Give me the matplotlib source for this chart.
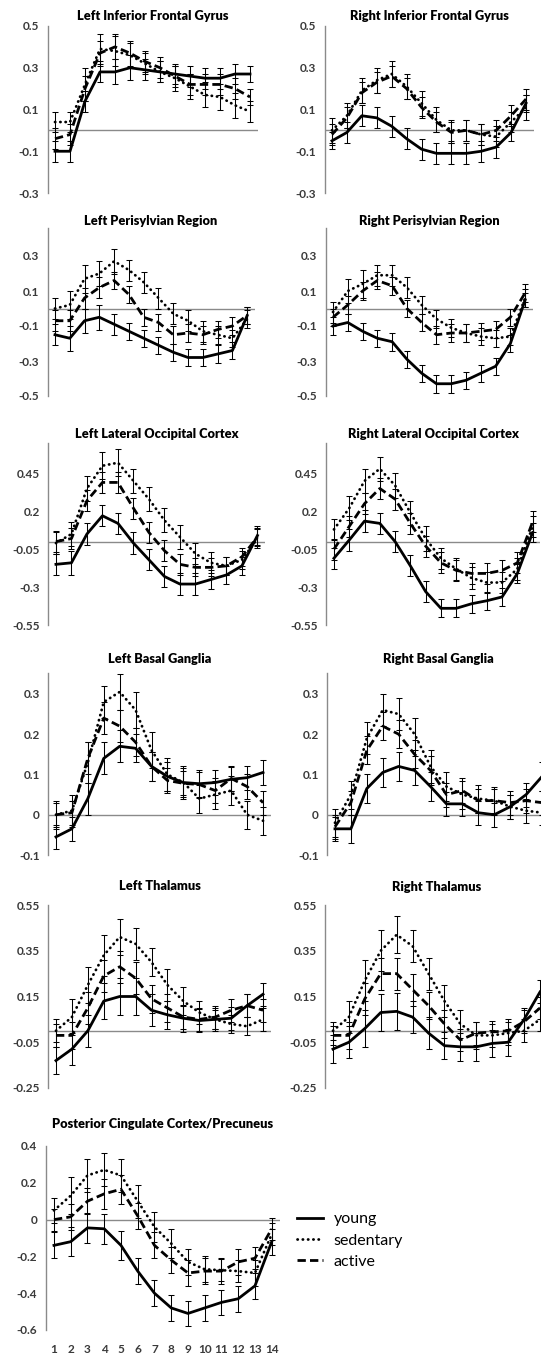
import matplotlib
matplotlib.use("Agg")
import matplotlib.pyplot as plt
from matplotlib.lines import Line2D

# ---------------- data ----------------
time_points = [1, 2, 3, 4, 5, 6, 7, 8, 9, 10, 11, 12, 13, 14]
group_labels = ["young", "sedentary", "active"]

LIFG_young = [-0.10, -0.10, 0.14, 0.28, 0.28, 0.30, 0.29, 0.28, 0.27, 0.26, 0.25, 0.25, 0.27, 0.27]
LIFG_sed = [0.04, 0.04, 0.22, 0.39, 0.38, 0.36, 0.32, 0.28, 0.25, 0.21, 0.17, 0.16, 0.12, 0.09]
LIFG_act = [-0.04, -0.02, 0.20, 0.37, 0.40, 0.37, 0.33, 0.30, 0.26, 0.22, 0.22, 0.22, 0.20, 0.16]
LIFG_err_young = [0.05, 0.05, 0.05, 0.05, 0.06, 0.06, 0.05, 0.05, 0.05, 0.05, 0.05, 0.05, 0.05, 0.04]
LIFG_err_sed = [0.05, 0.05, 0.08, 0.07, 0.07, 0.06, 0.05, 0.05, 0.06, 0.06, 0.06, 0.06, 0.06, 0.05]
LIFG_err_act = [0.05, 0.05, 0.06, 0.06, 0.06, 0.06, 0.05, 0.05, 0.05, 0.05, 0.05, 0.05, 0.05, 0.04]

RIFG_young = [-0.05, -0.01, 0.07, 0.06, 0.02, -0.04, -0.09, -0.11, -0.11, -0.11, -0.10, -0.08, -0.01, 0.13]
RIFG_sed = [0.00, 0.07, 0.19, 0.24, 0.27, 0.21, 0.13, 0.05, 0.00, 0.00, -0.02, -0.03, 0.04, 0.11]
RIFG_act = [-0.02, 0.06, 0.18, 0.23, 0.26, 0.20, 0.11, 0.04, -0.01, 0.00, -0.02, 0.00, 0.07, 0.15]
RIFG_err_young = [0.04, 0.05, 0.05, 0.05, 0.05, 0.05, 0.05, 0.05, 0.05, 0.05, 0.05, 0.05, 0.04, 0.04]
RIFG_err_sed = [0.06, 0.06, 0.06, 0.06, 0.06, 0.06, 0.06, 0.06, 0.05, 0.05, 0.05, 0.05, 0.05, 0.06]
RIFG_err_act = [0.05, 0.05, 0.05, 0.05, 0.05, 0.05, 0.05, 0.05, 0.05, 0.05, 0.05, 0.05, 0.05, 0.05]

LPeri_young = [-0.15, -0.17, -0.07, -0.05, -0.09, -0.13, -0.17, -0.21, -0.25, -0.28, -0.28, -0.26, -0.24, -0.04]
LPeri_sed = [0.00, 0.02, 0.17, 0.20, 0.27, 0.22, 0.15, 0.06, -0.03, -0.07, -0.13, -0.15, -0.17, -0.06]
LPeri_act = [-0.07, -0.07, 0.06, 0.12, 0.16, 0.08, -0.05, -0.08, -0.15, -0.14, -0.15, -0.12, -0.10, -0.04]
LPeri_err_young = [0.06, 0.07, 0.07, 0.07, 0.06, 0.05, 0.05, 0.05, 0.05, 0.05, 0.05, 0.05, 0.05, 0.05]
LPeri_err_sed = [0.06, 0.08, 0.08, 0.07, 0.07, 0.06, 0.06, 0.06, 0.06, 0.06, 0.06, 0.05, 0.05, 0.05]
LPeri_err_act = [0.06, 0.06, 0.06, 0.06, 0.05, 0.05, 0.05, 0.05, 0.05, 0.05, 0.05, 0.05, 0.05, 0.05]

RPeri_young = [-0.10, -0.08, -0.13, -0.17, -0.19, -0.29, -0.37, -0.43, -0.43, -0.41, -0.37, -0.33, -0.20, 0.05]
RPeri_sed = [-0.02, 0.10, 0.14, 0.19, 0.19, 0.12, 0.02, -0.06, -0.11, -0.14, -0.16, -0.17, -0.16, 0.06]
RPeri_act = [-0.05, 0.02, 0.10, 0.16, 0.13, 0.00, -0.08, -0.15, -0.14, -0.14, -0.13, -0.12, -0.05, 0.09]
RPeri_err_young = [0.05, 0.05, 0.05, 0.05, 0.05, 0.05, 0.05, 0.05, 0.05, 0.05, 0.05, 0.05, 0.05, 0.04]
RPeri_err_sed = [0.06, 0.07, 0.08, 0.06, 0.06, 0.06, 0.05, 0.05, 0.05, 0.05, 0.05, 0.05, 0.05, 0.05]
RPeri_err_act = [0.05, 0.05, 0.05, 0.05, 0.05, 0.05, 0.05, 0.05, 0.05, 0.05, 0.05, 0.05, 0.05, 0.05]

LLOC_young = [-0.15, -0.14, 0.05, 0.17, 0.12, -0.01, -0.12, -0.23, -0.28, -0.28, -0.25, -0.22, -0.16, 0.04]
LLOC_sed = [-0.01, 0.05, 0.35, 0.50, 0.52, 0.40, 0.28, 0.14, 0.03, -0.08, -0.14, -0.16, -0.12, 0.02]
LLOC_act = [0.00, 0.02, 0.27, 0.39, 0.39, 0.22, 0.06, -0.06, -0.15, -0.17, -0.17, -0.16, -0.10, 0.03]
LLOC_err_young = [0.07, 0.08, 0.07, 0.07, 0.07, 0.07, 0.07, 0.07, 0.07, 0.07, 0.06, 0.06, 0.06, 0.06]
LLOC_err_sed = [0.07, 0.08, 0.08, 0.09, 0.09, 0.08, 0.08, 0.08, 0.08, 0.07, 0.07, 0.06, 0.06, 0.06]
LLOC_err_act = [0.07, 0.07, 0.07, 0.07, 0.07, 0.07, 0.07, 0.07, 0.07, 0.06, 0.06, 0.06, 0.06, 0.06]

RLOC_young = [-0.11, 0.01, 0.135, 0.12, 0.00, -0.16, -0.33, -0.44, -0.44, -0.41, -0.39, -0.365, -0.21, 0.06]
RLOC_sed = [0.08, 0.22, 0.40, 0.48, 0.37, 0.19, 0.02, -0.11, -0.18, -0.24, -0.27, -0.27, -0.18, 0.10]
RLOC_act = [-0.05, 0.10, 0.25, 0.35, 0.28, 0.12, -0.03, -0.14, -0.19, -0.21, -0.21, -0.19, -0.14, 0.13]
RLOC_err_young = [0.07, 0.07, 0.07, 0.07, 0.07, 0.07, 0.07, 0.06, 0.06, 0.06, 0.06, 0.06, 0.06, 0.06]
RLOC_err_sed = [0.07, 0.08, 0.08, 0.08, 0.08, 0.08, 0.08, 0.07, 0.07, 0.07, 0.07, 0.07, 0.07, 0.07]
RLOC_err_act = [0.07, 0.07, 0.07, 0.07, 0.07, 0.07, 0.07, 0.07, 0.07, 0.07, 0.07, 0.07, 0.07, 0.07]

LBG_young = [-0.055, -0.035, 0.04, 0.14, 0.17, 0.165, 0.12, 0.095, 0.08, 0.077, 0.08, 0.088, 0.092, 0.105]
LBG_sed = [0.00, 0.01, 0.13, 0.28, 0.305, 0.26, 0.16, 0.10, 0.08, 0.04, 0.05, 0.06, 0.00, -0.015]
LBG_act = [0.00, 0.005, 0.14, 0.24, 0.22, 0.18, 0.12, 0.085, 0.078, 0.075, 0.06, 0.09, 0.07, 0.03]
LBG_err_young = [0.03, 0.03, 0.04, 0.04, 0.04, 0.035, 0.035, 0.035, 0.035, 0.035, 0.03, 0.03, 0.03, 0.03]
LBG_err_sed = [0.035, 0.04, 0.05, 0.04, 0.045, 0.045, 0.045, 0.04, 0.04, 0.035, 0.035, 0.035, 0.035, 0.035]
LBG_err_act = [0.03, 0.03, 0.04, 0.04, 0.04, 0.035, 0.035, 0.03, 0.03, 0.03, 0.03, 0.03, 0.03, 0.03]

RBG_young = [-0.035, -0.035, 0.065, 0.105, 0.12, 0.11, 0.07, 0.027, 0.027, 0.005, 0.0, 0.02, 0.05, 0.095]
RBG_sed = [-0.02, 0.05, 0.19, 0.26, 0.25, 0.20, 0.12, 0.07, 0.05, 0.04, 0.035, 0.02, 0.01, 0.005]
RBG_act = [-0.03, 0.03, 0.16, 0.22, 0.20, 0.15, 0.11, 0.05, 0.06, 0.035, 0.035, 0.03, 0.035, 0.03]
RBG_err_young = [0.03, 0.035, 0.035, 0.035, 0.035, 0.035, 0.035, 0.03, 0.03, 0.03, 0.03, 0.03, 0.03, 0.035]
RBG_err_sed = [0.035, 0.035, 0.04, 0.04, 0.04, 0.04, 0.04, 0.035, 0.035, 0.035, 0.035, 0.03, 0.03, 0.03]
RBG_err_act = [0.03, 0.03, 0.035, 0.035, 0.035, 0.035, 0.035, 0.03, 0.03, 0.03, 0.03, 0.03, 0.03, 0.03]

LThal_young = [-0.13, -0.08, 0.00, 0.13, 0.15, 0.15, 0.09, 0.07, 0.055, 0.045, 0.05, 0.055, 0.11, 0.16]
LThal_sed = [0.00, 0.06, 0.20, 0.33, 0.41, 0.38, 0.30, 0.20, 0.13, 0.08, 0.05, 0.03, 0.02, 0.05]
LThal_act = [-0.02, -0.02, 0.10, 0.24, 0.28, 0.23, 0.14, 0.10, 0.06, 0.05, 0.06, 0.09, 0.11, 0.09]
LThal_err_young = [0.06, 0.07, 0.07, 0.08, 0.08, 0.08, 0.07, 0.06, 0.06, 0.05, 0.05, 0.05, 0.05, 0.05]
LThal_err_sed = [0.05, 0.08, 0.08, 0.09, 0.08, 0.07, 0.06, 0.07, 0.06, 0.05, 0.04, 0.04, 0.04, 0.05]
LThal_err_act = [0.05, 0.06, 0.07, 0.07, 0.07, 0.07, 0.06, 0.06, 0.05, 0.05, 0.05, 0.05, 0.05, 0.05]

RThal_young = [-0.08, -0.05, 0.01, 0.08, 0.085, 0.06, -0.01, -0.065, -0.07, -0.07, -0.055, -0.05, 0.05, 0.17]
RThal_sed = [0.00, 0.06, 0.22, 0.35, 0.42, 0.37, 0.25, 0.13, 0.03, -0.02, -0.02, -0.01, 0.00, 0.05]
RThal_act = [-0.02, -0.02, 0.14, 0.25, 0.25, 0.18, 0.11, 0.03, -0.04, -0.01, -0.005, 0.00, 0.04, 0.10]
RThal_err_young = [0.06, 0.07, 0.08, 0.08, 0.08, 0.07, 0.07, 0.06, 0.06, 0.06, 0.06, 0.06, 0.05, 0.05]
RThal_err_sed = [0.04, 0.07, 0.09, 0.09, 0.08, 0.07, 0.07, 0.07, 0.06, 0.06, 0.05, 0.05, 0.05, 0.05]
RThal_err_act = [0.04, 0.06, 0.07, 0.07, 0.07, 0.07, 0.06, 0.06, 0.05, 0.05, 0.05, 0.05, 0.05, 0.05]

PCC_young = [-0.14, -0.12, -0.045, -0.05, -0.14, -0.28, -0.40, -0.48, -0.51, -0.48, -0.45, -0.43, -0.36, -0.12]
PCC_sed = [0.05, 0.13, 0.24, 0.27, 0.24, 0.10, -0.04, -0.13, -0.23, -0.27, -0.275, -0.28, -0.29, -0.08]
PCC_act = [0.00, 0.015, 0.10, 0.14, 0.165, 0.02, -0.14, -0.22, -0.29, -0.28, -0.28, -0.23, -0.21, -0.05]
PCC_err_young = [0.07, 0.08, 0.08, 0.08, 0.08, 0.07, 0.07, 0.07, 0.07, 0.07, 0.07, 0.07, 0.07, 0.07]
PCC_err_sed = [0.07, 0.10, 0.09, 0.09, 0.09, 0.09, 0.08, 0.08, 0.07, 0.07, 0.06, 0.06, 0.07, 0.06]
PCC_err_act = [0.06, 0.07, 0.07, 0.08, 0.08, 0.07, 0.07, 0.07, 0.07, 0.07, 0.07, 0.07, 0.06, 0.06]

titles = ["Left Inferior Frontal Gyrus", "Right Inferior Frontal Gyrus",
          "Left Perisylvian Region", "Right Perisylvian Region",
          "Left Lateral Occipital Cortex", "Right Lateral Occipital Cortex",
          "Left Basal Ganglia", "Right Basal Ganglia",
          "Left Thalamus", "Right Thalamus",
          "Posterior Cingulate Cortex/Precuneus"]

yticks_IFG = [-0.3, -0.1, 0.1, 0.3, 0.5]
yticks_Peri = [-0.5, -0.3, -0.1, 0.1, 0.3]
yticks_LOC = [-0.55, -0.3, -0.05, 0.2, 0.45]
yticks_BG = [-0.1, 0, 0.1, 0.2, 0.3]
yticks_Thal = [-0.25, -0.05, 0.15, 0.35, 0.55]
yticks_PCC = [-0.6, -0.4, -0.2, 0, 0.2, 0.4]

# ---------------- figure ----------------
W, H = 541, 1355
fig = plt.figure(figsize=(W / 100, H / 100), dpi=100)
plt.rcParams['font.family'] = ['Lato', 'DejaVu Sans']

# layout in pixels: (left, top, width, bottom, title_y)
panels = [
    (titles[0], LIFG_young, LIFG_sed, LIFG_act, LIFG_err_young, LIFG_err_sed, LIFG_err_act, yticks_IFG, (-0.3, 0.5), (47.5, 26, 210, 193, 16)),
    (titles[1], RIFG_young, RIFG_sed, RIFG_act, RIFG_err_young, RIFG_err_sed, RIFG_err_act, yticks_IFG, (-0.3, 0.5), (324.5, 26, 209, 193, 16)),
    (titles[2], LPeri_young, LPeri_sed, LPeri_act, LPeri_err_young, LPeri_err_sed, LPeri_err_act, yticks_Peri, (-0.5, 0.46), (47.6, 228, 207, 396, 221)),
    (titles[3], RPeri_young, RPeri_sed, RPeri_act, RPeri_err_young, RPeri_err_sed, RPeri_err_act, yticks_Peri, (-0.5, 0.46), (325.6, 228, 207, 396, 221)),
    (titles[4], LLOC_young, LLOC_sed, LLOC_act, LLOC_err_young, LLOC_err_sed, LLOC_err_act, yticks_LOC, (-0.55, 0.65), (48.2, 443, 217, 625, 434)),
    (titles[5], RLOC_young, RLOC_sed, RLOC_act, RLOC_err_young, RLOC_err_sed, RLOC_err_act, yticks_LOC, (-0.55, 0.65), (326.3, 443, 214, 625, 434)),
    (titles[6], LBG_young, LBG_sed, LBG_act, LBG_err_young, LBG_err_sed, LBG_err_act, yticks_BG, (-0.1, 0.352), (48, 673, 223, 855, 659)),
    (titles[7], RBG_young, RBG_sed, RBG_act, RBG_err_young, RBG_err_sed, RBG_err_act, yticks_BG, (-0.1, 0.352), (327, 673, 223, 855, 659)),
    (titles[8], LThal_young, LThal_sed, LThal_act, LThal_err_young, LThal_err_sed, LThal_err_act, yticks_Thal, (-0.25, 0.55), (48, 905, 223, 1088, 886)),
    (titles[9], RThal_young, RThal_sed, RThal_act, RThal_err_young, RThal_err_sed, RThal_err_act, yticks_Thal, (-0.25, 0.55), (325, 905, 223, 1088, 887)),
    (titles[10], PCC_young, PCC_sed, PCC_act, PCC_err_young, PCC_err_sed, PCC_err_act, yticks_PCC, (-0.6, 0.4), (45.6, 1146, 234.5, 1330, 1124)),
]

styles = [
    dict(linestyle='-', linewidth=2.0),
    dict(linestyle=(0, (0.1, 1.8)), linewidth=2.0, dash_capstyle='round'),
    dict(linestyle=(0, (3.0, 1.5)), linewidth=2.0),
]

axis_gray = '#8a8a8a'
text_gray = '#3a3a3a'

for idx, (title, y_y, y_s, y_a, e_y, e_s, e_a, yt, ylim, box) in enumerate(panels):
    left, top, width, bottom, title_y = box
    ax = fig.add_axes([left / W, 1 - bottom / H, width / W, (bottom - top) / H])
    ax.set_xlim(0.5, 14.5)
    ax.set_ylim(*ylim)
    for vals, errs, st in zip([y_y, y_s, y_a], [e_y, e_s, e_a], styles):
        ax.errorbar(time_points, vals, yerr=errs, fmt='none', ecolor='black',
                    elinewidth=0.75, capsize=2, capthick=0.75, zorder=3)
        ax.plot(time_points, vals, color='black', zorder=4, **st)
    ax.axhline(0, color=axis_gray, linewidth=1, zorder=1)
    for s in ['top', 'right', 'bottom']:
        ax.spines[s].set_visible(False)
    ax.spines['left'].set_color(axis_gray)
    ax.spines['left'].set_linewidth(1)
    ax.set_yticks(yt)
    ax.set_yticklabels([f"{v:g}" for v in yt], fontsize=8.5, fontweight='bold', color=text_gray)
    ax.tick_params(axis='y', length=0, pad=6)
    if idx == 10:
        ax.set_xticks(time_points)
        ax.set_xticklabels([str(t) for t in time_points], fontsize=8.5, fontweight='bold', color=text_gray)
        ax.tick_params(axis='x', length=0, pad=10)
    else:
        ax.set_xticks([])
    ax.patch.set_visible(False)
    fig.text((left + width / 2) / W, 1 - title_y / H, title, ha='center', va='center',
             fontsize=9.2, fontweight='heavy', color='black')

handles = [Line2D([0], [0], color='black', **st) for st in styles]
fig.legend(handles, group_labels, loc='upper left', bbox_to_anchor=(297 / W, 1 - 1212 / H),
           frameon=False, fontsize=11.5, handlelength=1.6, handletextpad=0.7,
           labelspacing=0.45, borderpad=0, borderaxespad=0)

fig.savefig("out.png", dpi=100)
